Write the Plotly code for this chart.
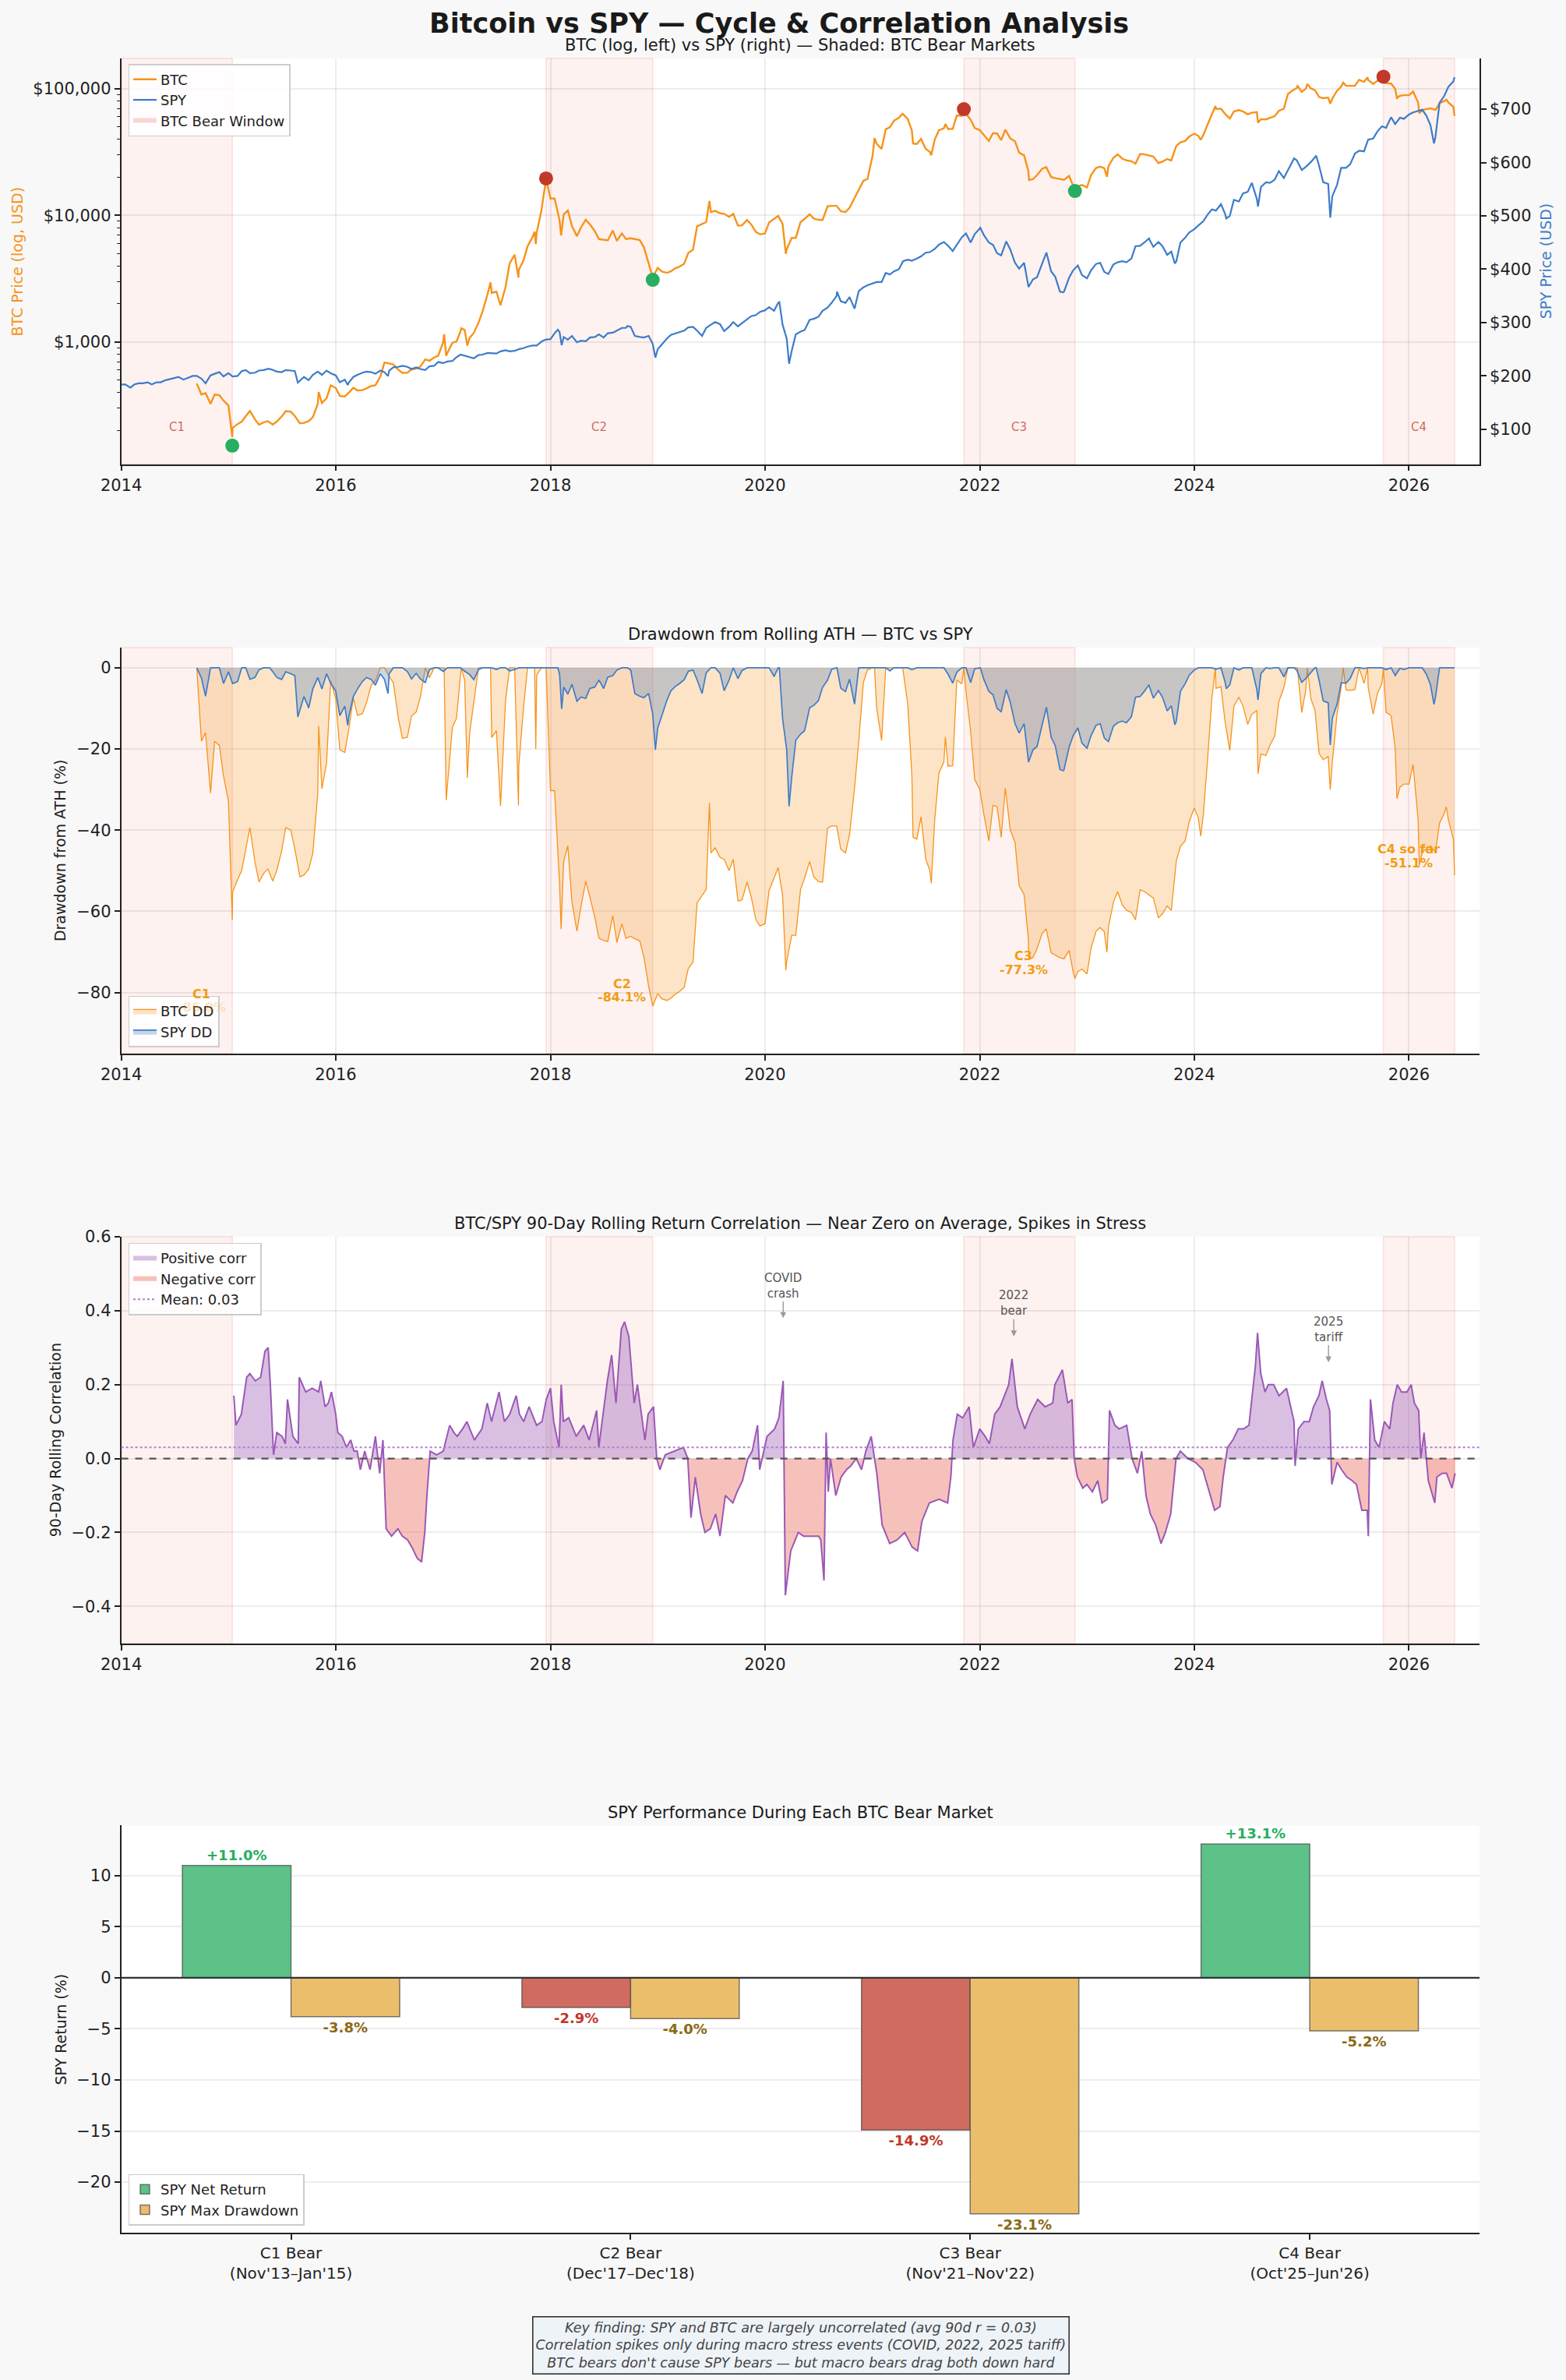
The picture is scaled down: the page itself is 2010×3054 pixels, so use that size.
import numpy as np
import pandas as pd
import plotly.graph_objects as go

# ============================ DATA ============================
# BTC close (USD), semi-monthly readings (1st / 15th) starting 2014-09-15
BTC_GRID_START = "2014-09-15"
BTC_SEMIMONTHLY = [
    470, 385, 395, 325, 385, 380, 345,                                   # 2014 (Sep 15 ->)
    315, 210, 225, 235, 260, 285, 245, 222, 232, 237, 223, 236,
    258, 285, 282, 260, 228, 230, 237, 255, 325, 330, 360, 455,          # 2015
    434, 375, 372, 400, 435, 415, 417, 430, 450, 455, 535, 690,
    675, 665, 605, 570, 572, 608, 615, 640, 730, 712, 755, 780,          # 2016
    998, 820, 985, 1010, 1220, 1245, 1080, 1180, 1420, 1750, 2400, 2450,
    2500, 1950, 2720, 4180, 4890, 3700, 4400, 5700, 6750, 7300, 10900, 17700,  # 2017
    13600, 13600, 9100, 10200, 10950, 8250, 6850, 8050, 9250, 8500, 7500, 6500,
    6400, 6350, 7600, 6300, 7200, 6500, 6600, 6480, 6380, 5600, 4200, 3240,    # 2018
    3850, 3600, 3520, 3620, 3820, 3930, 4150, 5050, 5350, 8200, 8550, 8850,
    10600, 10850, 10400, 10300, 9750, 10300, 8300, 8350, 9200, 8500, 7400, 7100,  # 2019
    7200, 8800, 9400, 9900, 8550, 5400, 6650, 6650, 8850, 9400, 10200, 9450,
    9230, 9200, 11800, 11900, 11900, 10800, 10600, 11500, 13750, 15950, 18800, 19400,  # 2020
    29400, 36800, 33500, 47900, 49600, 56000, 59000, 63100, 57800, 46700, 36700, 40200,
    33600, 31800, 39900, 47000, 48800, 48100, 48200, 61600, 61000, 63600, 57000, 48900,  # 2021
    47300, 43100, 38700, 44600, 44400, 39300, 46300, 40500, 38500, 31300, 29800, 22600,
    19300, 20800, 23300, 24100, 20100, 19700, 19300, 19100, 20500, 16900, 17000, 17400,  # 2022
    16600, 20900, 23700, 24300, 23600, 24400, 28500, 30300, 28100, 27200, 26800, 25600,
    30600, 30300, 29700, 29200, 25900, 26600, 27900, 27150, 35400, 37800, 38700, 41900,  # 2023
    44200, 42500, 43100, 51900, 62400, 69400, 69700, 63400, 58200, 66200, 67800, 66200,
    62900, 64700, 65400, 57600, 57300, 59200, 60800, 67000, 69500, 91100, 97200, 101400,  # 2024
    94400, 100500, 100700, 97600, 86000, 84300, 85200, 83700, 96500, 103700, 105600, 105500,
    105700, 117800, 113300, 117400, 109200, 115300, 118600, 111000, 110000, 100000, 88000, 89000,  # 2025
    89000, 95000, 78000, 68000, 69000, 70000, 68000, 77000, 80000, 78000, 72000,   # 2026 (-> Jun 1)
]
# Extra BTC readings at notable highs / lows
BTC_EVENT_DATES = [
    "2015-01-14", "2015-11-04", "2017-01-04", "2017-01-11", "2017-03-03", "2017-03-24",
    "2017-06-11", "2017-09-14", "2017-11-08", "2017-11-12", "2017-12-17", "2018-02-06",
    "2019-06-26", "2020-03-12", "2021-01-08", "2021-04-13", "2021-05-19", "2021-07-20",
    "2021-09-06", "2021-11-08", "2022-03-29", "2022-06-18", "2022-11-21", "2023-03-10",
    "2024-01-23", "2024-03-13", "2024-08-05", "2024-12-17", "2025-01-20", "2025-04-08",
    "2025-05-22", "2025-08-13", "2025-10-06", "2025-11-21", "2026-02-05", "2026-05-08",
    "2026-06-05",
]
BTC_EVENT_PRICES = [
    178, 403, 1154, 778, 1285, 937,
    2958, 3230, 7440, 5950, 19500, 6950,
    13000, 4970, 40800, 63500, 37000, 29800,
    52700, 67500, 47500, 19000, 15800, 20200,
    39500, 73100, 54000, 106100, 109000, 76300,
    111700, 123300, 124700, 84500, 64000, 82000,
    61000,
]

# SPY close (USD), semi-monthly readings starting 2014-01-01
SPY_GRID_START = "2014-01-01"
SPY_SEMIMONTHLY = [
    184, 184, 178, 184, 186, 186, 188, 184, 188, 188, 192, 194,
    197, 198, 193, 196, 200, 200, 195, 186, 201, 204, 207, 199,          # 2014
    205, 199, 200, 209, 211, 205, 206, 210, 211, 213, 211, 208,
    207, 211, 210, 209, 191, 198, 192, 202, 208, 202, 210, 205,          # 2015
    201, 188, 193, 188, 198, 202, 206, 208, 207, 204, 210, 207,
    210, 216, 217, 219, 217, 213, 216, 213, 211, 218, 219, 226,          # 2016
    224, 227, 228, 235, 240, 238, 236, 233, 239, 240, 243, 243,
    242, 246, 248, 246, 247, 250, 252, 255, 257, 257, 264, 268,          # 2017
    269, 280, 282, 273, 268, 275, 263, 266, 265, 272, 273, 278,
    272, 280, 281, 285, 290, 290, 292, 275, 273, 272, 275, 260,          # 2018
    250, 259, 270, 277, 280, 282, 285, 291, 292, 285, 275, 290,
    296, 301, 297, 284, 292, 301, 293, 299, 306, 312, 314, 320,          # 2019
    323, 329, 322, 337, 296, 270, 247, 278, 283, 286, 305, 307,
    311, 322, 328, 337, 350, 340, 337, 348, 326, 359, 366, 370,          # 2020
    373, 376, 376, 393, 390, 396, 400, 415, 418, 416, 420, 424,
    431, 432, 438, 446, 451, 444, 434, 446, 460, 467, 450, 466,          # 2021
    477, 464, 450, 446, 430, 426, 452, 437, 412, 401, 412, 370,
    381, 385, 410, 429, 396, 386, 358, 358, 384, 398, 407, 389,          # 2022
    383, 398, 410, 412, 395, 391, 409, 413, 415, 413, 420, 443,
    444, 450, 456, 442, 451, 443, 427, 433, 415, 450, 459, 469,          # 2023
    475, 482, 490, 502, 512, 510, 522, 504, 500, 530, 527, 542,
    545, 562, 532, 554, 563, 562, 568, 584, 571, 586, 602, 604,          # 2024
    586, 592, 601, 610, 594, 563, 560, 537, 558, 590, 590, 597,
    617, 622, 621, 643, 645, 658, 668, 665, 685, 672, 684, 682,          # 2025
    690, 694, 697, 699, 688, 670, 648, 712, 725, 742, 752,               # 2026 (-> Jun 1)
]
SPY_EVENT_DATES = [
    "2015-05-21", "2015-08-25", "2016-02-11", "2016-06-27", "2018-01-26", "2018-02-08",
    "2018-09-20", "2018-12-24", "2020-02-19", "2020-03-23", "2020-09-02", "2022-01-03",
    "2022-06-16", "2022-08-16", "2022-10-12", "2023-07-31", "2023-10-27", "2024-04-19",
    "2024-08-05", "2024-12-06", "2025-02-19", "2025-04-08", "2026-03-27", "2026-06-05",
]
SPY_EVENT_PRICES = [
    213.1, 187.3, 182.9, 199.6, 286.6, 257.6,
    293.6, 234.3, 338.3, 222.9, 358.0, 477.7,
    366.7, 431.3, 356.6, 457.8, 410.7, 495.2,
    517.4, 607.8, 612.9, 496.5, 636.0, 760.0,
]

# Cycle peaks / troughs (markers)
PEAK_DATES = ["2017-12-17", "2021-11-08", "2025-10-06"]
PEAK_PRICES = [19600, 69000, 124500]
TROUGH_DATES = ["2015-01-14", "2018-12-15", "2022-11-21"]
TROUGH_PRICES = [152, 3100, 15600]

# BTC bear windows
BEAR_LABELS = ["C1", "C2", "C3", "C4"]
BEAR_START = ["2013-11-30", "2017-12-17", "2021-11-08", "2025-10-06"]
BEAR_END = ["2015-01-14", "2018-12-15", "2022-11-21", "2026-06-05"]

# Drawdown callouts (cycle name, depth text)
DD_LABEL_NAME = ["C1", "C2", "C3", "C4 so far"]
DD_LABEL_DEPTH = ["-86.0%", "-84.1%", "-77.3%", "-51.1%"]
DD_LABEL_DATES = ["2014-10-01", "2018-09-01", "2022-05-30", "2026-01-01"]
DD_LABEL_LEVELS = [-82.0, -79.5, -72.7, -46.4]

# 90-day rolling BTC/SPY correlation readings (decimal year, r)
CORR_YEARS = [
    2015.05, 2015.07, 2015.12, 2015.17, 2015.20, 2015.25, 2015.30, 2015.34, 2015.37, 2015.39,
    2015.42, 2015.45, 2015.50, 2015.53, 2015.55, 2015.58, 2015.60, 2015.65, 2015.66, 2015.72,
    2015.78, 2015.84, 2015.86, 2015.90, 2015.93, 2015.96, 2016.00, 2016.02, 2016.06, 2016.10,
    2016.14, 2016.17, 2016.20, 2016.23, 2016.27, 2016.32, 2016.37, 2016.41, 2016.44, 2016.47,
    2016.52, 2016.58, 2016.62, 2016.67, 2016.71, 2016.76, 2016.80, 2016.83, 2016.85, 2016.88,
    2016.94, 2017.00, 2017.06, 2017.10, 2017.13, 2017.18, 2017.22, 2017.29, 2017.36, 2017.41,
    2017.45, 2017.52, 2017.57, 2017.62, 2017.68, 2017.71, 2017.75, 2017.80, 2017.87, 2017.92,
    2017.96, 2018.00, 2018.03, 2018.08, 2018.10, 2018.12, 2018.17, 2018.24, 2018.31, 2018.36,
    2018.43, 2018.45, 2018.50, 2018.53, 2018.57, 2018.61, 2018.66, 2018.69, 2018.73, 2018.78,
    2018.81, 2018.85, 2018.88, 2018.91, 2018.96, 2018.99, 2019.02, 2019.07, 2019.15, 2019.24,
    2019.28, 2019.31, 2019.35, 2019.40, 2019.44, 2019.49, 2019.54, 2019.58, 2019.63, 2019.70,
    2019.74, 2019.79, 2019.84, 2019.88, 2019.93, 2019.95, 2020.02, 2020.09, 2020.13, 2020.17,
    2020.19, 2020.24, 2020.31, 2020.36, 2020.43, 2020.50, 2020.52, 2020.55, 2020.57, 2020.59,
    2020.61, 2020.66, 2020.71, 2020.76, 2020.80, 2020.85, 2020.90, 2020.94, 2020.99, 2021.04,
    2021.09, 2021.16, 2021.23, 2021.30, 2021.37, 2021.42, 2021.46, 2021.53, 2021.62, 2021.70,
    2021.73, 2021.75, 2021.79, 2021.84, 2021.90, 2021.94, 2022.00, 2022.05, 2022.09, 2022.14,
    2022.19, 2022.23, 2022.27, 2022.30, 2022.35, 2022.42, 2022.47, 2022.54, 2022.61, 2022.68,
    2022.70, 2022.77, 2022.82, 2022.86, 2022.88, 2022.91, 2022.96, 2023.00, 2023.05, 2023.10,
    2023.14, 2023.19, 2023.21, 2023.26, 2023.30, 2023.37, 2023.42, 2023.47, 2023.51, 2023.55,
    2023.59, 2023.64, 2023.69, 2023.73, 2023.78, 2023.83, 2023.87, 2023.94, 2024.01, 2024.08,
    2024.13, 2024.19, 2024.24, 2024.27, 2024.31, 2024.36, 2024.41, 2024.46, 2024.51, 2024.53,
    2024.57, 2024.59, 2024.62, 2024.66, 2024.69, 2024.74, 2024.79, 2024.86, 2024.90, 2024.93,
    2024.94, 2024.97, 2025.02, 2025.07, 2025.11, 2025.16, 2025.19, 2025.23, 2025.26, 2025.28,
    2025.33, 2025.37, 2025.42, 2025.47, 2025.51, 2025.56, 2025.61, 2025.62, 2025.64, 2025.68,
    2025.72, 2025.77, 2025.82, 2025.85, 2025.89, 2025.93, 2025.98, 2026.02, 2026.05, 2026.09,
    2026.11, 2026.14, 2026.18, 2026.21, 2026.24, 2026.26, 2026.31, 2026.35, 2026.40, 2026.43,
]
CORR_VALUES = [
    0.17, 0.09, 0.12, 0.22, 0.23, 0.21, 0.22, 0.29, 0.30, 0.20,
    0.01, 0.07, 0.06, 0.04, 0.16, 0.10, 0.06, 0.04, 0.22, 0.18,
    0.19, 0.18, 0.21, 0.14, 0.15, 0.18, 0.12, 0.07, 0.06, 0.03,
    0.05, 0.02, 0.02, -0.03, 0.02, -0.03, 0.06, -0.04, 0.05, -0.19,
    -0.21, -0.19, -0.21, -0.22, -0.24, -0.27, -0.28, -0.20, -0.10, 0.02,
    0.01, 0.02, 0.09, 0.07, 0.06, 0.08, 0.10, 0.05, 0.08, 0.15,
    0.10, 0.18, 0.10, 0.12, 0.17, 0.12, 0.10, 0.14, 0.09, 0.10,
    0.16, 0.19, 0.10, 0.03, 0.20, 0.10, 0.11, 0.06, 0.09, 0.05,
    0.13, 0.03, 0.14, 0.21, 0.28, 0.15, 0.35, 0.37, 0.33, 0.15,
    0.20, 0.12, 0.05, 0.12, 0.14, 0.00, -0.03, 0.01, 0.02, 0.03,
    0.00, -0.16, -0.05, -0.15, -0.20, -0.19, -0.15, -0.21, -0.10, -0.12,
    -0.09, -0.06, 0.00, 0.02, 0.09, -0.03, 0.06, 0.08, 0.11, 0.21,
    -0.37, -0.25, -0.20, -0.21, -0.21, -0.21, -0.22, -0.33, 0.07, -0.09,
    0.00, -0.10, -0.05, -0.03, -0.02, 0.00, -0.03, 0.02, 0.06, -0.04,
    -0.18, -0.23, -0.22, -0.20, -0.24, -0.25, -0.17, -0.12, -0.11, -0.12,
    -0.05, 0.05, 0.12, 0.11, 0.14, 0.03, 0.08, 0.06, 0.04, 0.12,
    0.14, 0.17, 0.20, 0.27, 0.14, 0.08, 0.12, 0.16, 0.14, 0.15,
    0.20, 0.24, 0.15, 0.16, 0.00, -0.05, -0.08, -0.07, -0.09, -0.06,
    -0.12, -0.11, 0.13, 0.09, 0.08, 0.09, 0.00, -0.04, 0.02, -0.10,
    -0.15, -0.18, -0.23, -0.20, -0.15, 0.00, 0.02, 0.00, -0.01, -0.03,
    -0.08, -0.14, -0.13, -0.05, 0.03, 0.05, 0.08, 0.08, 0.09, 0.14,
    0.25, 0.34, 0.23, 0.18, 0.20, 0.20, 0.17, 0.19, 0.14, 0.10,
    -0.02, 0.08, 0.10, 0.10, 0.14, 0.17, 0.21, 0.16, 0.13, -0.07,
    -0.01, -0.03, -0.05, -0.06, -0.07, -0.14, -0.14, -0.21, 0.16, 0.05,
    0.03, 0.10, 0.08, 0.15, 0.20, 0.18, 0.18, 0.20, 0.15, 0.13,
    0.00, 0.07, -0.06, -0.09, -0.12, -0.05, -0.04, -0.04, -0.08, -0.04,
]
CORR_MEAN = 0.03

STRESS_LABELS = ["COVID<br>crash", "2022<br>bear", "2025<br>tariff"]
STRESS_DATES = ["2020-03-03", "2022-04-27", "2025-04-02"]
STRESS_TIP = [0.38, 0.33, 0.26]
STRESS_TEXT_Y = [0.468, 0.42, 0.35]

# SPY performance during BTC bears
BAR_CATEGORIES = ["C1 Bear<br>(Nov'13–Jan'15)", "C2 Bear<br>(Dec'17–Dec'18)",
                  "C3 Bear<br>(Nov'21–Nov'22)", "C4 Bear<br>(Oct'25–Jun'26)"]
SPY_NET_RETURN = [11.0, -2.9, -14.9, 13.1]
SPY_MAX_DRAWDOWN = [-3.8, -4.0, -23.1, -5.2]

FOOTER_LINES = [
    "Key finding: SPY and BTC are largely uncorrelated (avg 90d r = 0.03)",
    "Correlation spikes only during macro stress events (COVID, 2022, 2025 tariff)",
    "BTC bears don't cause SPY bears — but macro bears drag both down hard",
]

# ============================ STYLE ============================
W, H = 2010, 3054
FONT = "DejaVu Sans"
C_BTC = "#f7931a"
C_SPY = "#3d7cc9"
C_PURPLE = "#9b59b6"
C_RED = "#c0392b"
C_GREEN = "#27ae60"
C_GOLD_TXT = "#8b6914"
SHADE_FILL = "rgba(231,76,60,0.075)"
SHADE_EDGE = "rgba(231,76,60,0.15)"
GRID = "rgba(0,0,0,0.07)"
AX = "#222222"
PAPER = "#f8f8f8"
X_START, X_END = "2014-01-01", "2026-08-29"
TICK_SIZE = 21


def px_x(p):
    return p / W


def px_y(p):
    return 1 - p / H


XDOM = [px_x(155.6), px_x(1899.0)]
YDOM = [
    [px_y(595.5), px_y(75.1)],
    [px_y(1351.7), px_y(830.9)],
    [px_y(2108.7), px_y(1587.0)],
    [px_y(2864.9), px_y(2342.4)],
]


def build_series(start, grid_vals, ev_dates, ev_vals):
    idx = list(pd.date_range(start, periods=len(grid_vals), freq="SMS"))
    idx += list(pd.to_datetime(ev_dates))
    s = pd.Series(list(grid_vals) + list(ev_vals), index=idx, dtype=float)
    s = s[~s.index.duplicated(keep="last")].sort_index()
    return s


def dec_year_to_ts(y):
    yi = int(np.floor(y))
    return pd.Timestamp(f"{yi}-01-01") + pd.Timedelta(days=(y - yi) * 365.25)


btc = build_series(BTC_GRID_START, BTC_SEMIMONTHLY, BTC_EVENT_DATES, BTC_EVENT_PRICES)
spy = build_series(SPY_GRID_START, SPY_SEMIMONTHLY, SPY_EVENT_DATES, SPY_EVENT_PRICES)

btc_dd = (btc / btc.cummax() - 1) * 100
spy_al = spy[spy.index >= btc.index[0]]
spy_dd = (spy_al / spy_al.cummax() - 1) * 100

corr_t = pd.DatetimeIndex([dec_year_to_ts(y) for y in CORR_YEARS])
corr_v = np.array(CORR_VALUES, dtype=float)

# zero-crossing geometry for the sign-split fills
tn = corr_t.asi8.astype(float)
fx, fy = [tn[0]], [corr_v[0]]
for i in range(1, len(corr_v)):
    a, b = corr_v[i - 1], corr_v[i]
    if a * b < 0:
        fx.append(tn[i - 1] + (tn[i] - tn[i - 1]) * a / (a - b))
        fy.append(0.0)
    fx.append(tn[i])
    fy.append(b)
fx = pd.to_datetime(np.array(fx, dtype="int64"))
fy = np.array(fy)
corr_pos = np.maximum(fy, 0)
corr_neg = np.minimum(fy, 0)

fig = go.Figure()

# ---------------- Panel 1: prices ----------------
fig.add_trace(go.Scatter(x=btc.index, y=btc.values, mode="lines", name="BTC",
                         line=dict(color=C_BTC, width=2.4), xaxis="x", yaxis="y",
                         legend="legend"))
fig.add_trace(go.Scatter(x=spy.index, y=spy.values, mode="lines", name="SPY",
                         line=dict(color=C_SPY, width=2.2), xaxis="x", yaxis="y2",
                         legend="legend"))
fig.add_trace(go.Scatter(x=[None], y=[None], mode="none", fill="toself",
                         fillcolor="rgba(231,76,60,0.22)", name="BTC Bear Window",
                         xaxis="x", yaxis="y", legend="legend"))
fig.add_trace(go.Scatter(x=pd.to_datetime(PEAK_DATES), y=PEAK_PRICES, mode="markers",
                         marker=dict(color=C_RED, size=18), showlegend=False,
                         xaxis="x", yaxis="y"))
fig.add_trace(go.Scatter(x=pd.to_datetime(TROUGH_DATES), y=TROUGH_PRICES, mode="markers",
                         marker=dict(color=C_GREEN, size=18), showlegend=False,
                         xaxis="x", yaxis="y"))

# ---------------- Panel 2: drawdowns ----------------
fig.add_trace(go.Scatter(x=btc_dd.index, y=btc_dd.values, mode="lines", name="BTC DD",
                         fill="tozeroy", fillcolor="rgba(247,147,26,0.25)",
                         line=dict(color=C_BTC, width=1.3), xaxis="x2", yaxis="y3",
                         legend="legend2"))
fig.add_trace(go.Scatter(x=spy_dd.index, y=spy_dd.values, mode="lines", name="SPY DD",
                         fill="tozeroy", fillcolor="rgba(74,127,193,0.3)",
                         line=dict(color=C_SPY, width=1.7), xaxis="x2", yaxis="y3",
                         legend="legend2"))

# ---------------- Panel 3: correlation ----------------
fig.add_trace(go.Scatter(x=fx, y=corr_pos, mode="none", name="Positive corr",
                         fill="tozeroy", fillcolor="rgba(155,89,182,0.38)",
                         xaxis="x3", yaxis="y4", legend="legend3"))
fig.add_trace(go.Scatter(x=fx, y=corr_neg, mode="none", name="Negative corr",
                         fill="tozeroy", fillcolor="rgba(231,76,60,0.35)",
                         xaxis="x3", yaxis="y4", legend="legend3"))
fig.add_trace(go.Scatter(x=[None], y=[None], mode="lines", name=f"Mean: {CORR_MEAN:.2f}",
                         line=dict(color="#b57fcc", width=2, dash="dot"),
                         xaxis="x3", yaxis="y4", legend="legend3"))
fig.add_trace(go.Scatter(x=corr_t, y=corr_v, mode="lines", showlegend=False,
                         line=dict(color=C_PURPLE, width=2.0), xaxis="x3", yaxis="y4"))

# ---------------- Panel 4: bars ----------------
net_colors = ["#5cc288" if v >= 0 else "#d06b61" for v in SPY_NET_RETURN]
net_txt_colors = [C_GREEN if v >= 0 else C_RED for v in SPY_NET_RETURN]
fig.add_trace(go.Bar(x=BAR_CATEGORIES, y=SPY_NET_RETURN, name="SPY Net Return",
                     marker=dict(color=net_colors, line=dict(color="rgba(70,70,70,0.7)", width=1.5)),
                     text=[f"<b>{v:+.1f}%</b>" for v in SPY_NET_RETURN], textposition="outside",
                     textfont=dict(size=18, color=net_txt_colors, family=FONT),
                     constraintext="none", cliponaxis=False,
                     xaxis="x4", yaxis="y5", legend="legend4"))
fig.add_trace(go.Bar(x=BAR_CATEGORIES, y=SPY_MAX_DRAWDOWN, name="SPY Max Drawdown",
                     marker=dict(color="#ebbe6c", line=dict(color="rgba(70,70,70,0.7)", width=1.5)),
                     text=[f"<b>{v:.1f}%</b>" for v in SPY_MAX_DRAWDOWN], textposition="outside",
                     textfont=dict(size=18, color=C_GOLD_TXT, family=FONT),
                     constraintext="none", cliponaxis=False,
                     xaxis="x4", yaxis="y5", legend="legend4"))

# ---------------- shapes ----------------
shapes = []
for xr, yr in [("x", "y"), ("x2", "y3"), ("x3", "y4")]:
    for s0, s1 in zip(BEAR_START, BEAR_END):
        x0 = max(pd.Timestamp(s0), pd.Timestamp(X_START))
        shapes.append(dict(type="rect", xref=xr, yref=f"{yr} domain", x0=x0, x1=s1, y0=0, y1=1,
                           fillcolor=SHADE_FILL, line=dict(color=SHADE_EDGE, width=1.5),
                           layer="below"))
shapes.append(dict(type="line", xref="x3 domain", yref="y4", x0=0, x1=1, y0=CORR_MEAN, y1=CORR_MEAN,
                   line=dict(color="#b57fcc", width=2, dash="dot"), layer="above"))
shapes.append(dict(type="line", xref="x3 domain", yref="y4", x0=0, x1=1, y0=0, y1=0,
                   line=dict(color="#555555", width=2.2, dash="dash"), layer="above"))
shapes.append(dict(type="line", xref="x4 domain", yref="y5", x0=0, x1=1, y0=0, y1=0,
                   line=dict(color="#333333", width=2.2), layer="above"))

# ---------------- annotations ----------------
ann = []


def paper_text(text, xp, yp, size, color, angle=0):
    return dict(text=text, x=px_x(xp), y=px_y(yp), xref="paper", yref="paper",
                xanchor="center", yanchor="middle", showarrow=False, textangle=angle,
                font=dict(size=size, color=color))


ann.append(paper_text("<b>Bitcoin vs SPY — Cycle & Correlation Analysis</b>", 999.5, 29.7, 35, "#1a1a1a"))
axes_cx = (155.6 + 1899.0) / 2
panel_titles = [
    ("BTC (log, left) vs SPY (right) — Shaded: BTC Bear Markets", 58.1),
    ("Drawdown from Rolling ATH — BTC vs SPY", 813.7),
    ("BTC/SPY 90-Day Rolling Return Correlation — Near Zero on Average, Spikes in Stress", 1569.9),
    ("SPY Performance During Each BTC Bear Market", 2325.7),
]
for t, yp in panel_titles:
    ann.append(paper_text(t, axes_cx, yp, 21, "#1a1a1a"))

ytitles = [
    ("BTC Price (log, USD)", 22.3, 335.3, C_BTC),
    ("SPY Price (USD)", 1984.0, 335.3, C_SPY),
    ("Drawdown from ATH (%)", 77.8, 1091.3, AX),
    ("90-Day Rolling Correlation", 71.4, 1847.9, AX),
    ("SPY Return (%)", 77.8, 2603.7, AX),
]
for t, xp, yp, c in ytitles:
    ann.append(paper_text(t, xp, yp, 19, c, angle=-90))

for lab, s0, s1 in zip(BEAR_LABELS, BEAR_START, BEAR_END):
    a = max(pd.Timestamp(s0), pd.Timestamp(X_START))
    b = pd.Timestamp(s1)
    ann.append(dict(text=lab, x=a + (b - a) / 2, y=0.092, xref="x", yref="y domain",
                    xanchor="center", yanchor="middle", showarrow=False,
                    font=dict(size=15, color="rgba(192,57,43,0.75)")))

for i, (nm, dp, d, lv) in enumerate(zip(DD_LABEL_NAME, DD_LABEL_DEPTH, DD_LABEL_DATES, DD_LABEL_LEVELS)):
    # the first callout sits behind the legend in the reference, so its depth line is faint
    depth_col = "rgba(243,156,18,0.25)" if i == 0 else "#f39c12"
    ann.append(dict(text=f"<b>{nm}</b>", x=d, y=lv + 1.7, xref="x2", yref="y3", showarrow=False,
                    xanchor="center", yanchor="middle", font=dict(size=16, color="#f39c12")))
    ann.append(dict(text=f"<b>{dp}</b>", x=d, y=lv - 1.7, xref="x2", yref="y3", showarrow=False,
                    xanchor="center", yanchor="middle", font=dict(size=16, color=depth_col)))

for t, d, tip, ty in zip(STRESS_LABELS, STRESS_DATES, STRESS_TIP, STRESS_TEXT_Y):
    ann.append(dict(text=t, x=d, y=tip, xref="x3", yref="y4", ax=d, ay=ty, axref="x3", ayref="y4",
                    showarrow=True, arrowhead=2, arrowsize=1.1, arrowwidth=1.4, arrowcolor="#9a9a9a",
                    font=dict(size=15, color="#555555")))

foot = paper_text("<i>" + "<br>".join(FOOTER_LINES) + "</i>", 1028, 3009, 17.5, "#444444")
foot.update(align="center", bgcolor="#eef3f8", bordercolor="#333333", borderwidth=1.6, borderpad=3)
ann.append(foot)

# ---------------- axes ----------------
tickfont = dict(size=TICK_SIZE, color=AX)
common_x = dict(type="date", range=[X_START, X_END], domain=XDOM, tickformat="%Y", dtick="M24",
                tick0="2014-01-01", showgrid=True, gridcolor=GRID, gridwidth=1.5, showline=True,
                linecolor=AX, linewidth=1.8, ticks="outside", ticklen=7, tickwidth=1.5,
                tickcolor=AX, tickfont=tickfont, zeroline=False, automargin=False)
common_y = dict(showgrid=True, gridcolor=GRID, gridwidth=1.5, showline=True, linecolor=AX,
                linewidth=1.8, ticks="outside", ticklen=7, tickwidth=1.5, tickcolor=AX,
                tickfont=tickfont, zeroline=False, automargin=False)

minor_vals = [m * 10 ** e for e in (2, 3, 4) for m in range(2, 10)]
spy_ticks = [100, 200, 300, 400, 500, 600, 700]

legend_style = dict(bgcolor="rgba(255,255,255,0.85)", bordercolor="#cccccc", borderwidth=1.5,
                    font=dict(size=18, color=AX), xanchor="left")

fig.update_layout(
    width=W, height=H, autosize=False, margin=dict(l=0, r=0, t=0, b=0, autoexpand=False),
    paper_bgcolor=PAPER, plot_bgcolor="white", font=dict(family=FONT, color=AX),
    hovermode=False, barmode="group", bargap=0.36, bargroupgap=0.0,
    xaxis=dict(common_x, anchor="y"),
    yaxis=dict(common_y, type="log", domain=YDOM[0], range=[2.036, 5.239], anchor="x",
               tickvals=[1000, 10000, 100000], ticktext=["$1,000", "$10,000", "$100,000"],
               minor=dict(tickvals=minor_vals, ticks="outside", ticklen=4, tickwidth=1.2,
                          tickcolor=AX, showgrid=False)),
    yaxis2=dict(common_y, overlaying="y", side="right", range=[34.7, 795], anchor="x",
                tickvals=spy_ticks, ticktext=[f"${v}" for v in spy_ticks], showgrid=False),
    xaxis2=dict(common_x, anchor="y3"),
    yaxis3=dict(common_y, domain=YDOM[1], range=[-95, 5], anchor="x2",
                tickvals=[0, -20, -40, -60, -80]),
    xaxis3=dict(common_x, anchor="y4"),
    yaxis4=dict(common_y, domain=YDOM[2], range=[-0.5, 0.6], anchor="x3", dtick=0.2,
                tick0=0, tickformat=".1f"),
    xaxis4=dict(type="category", domain=XDOM, range=[-0.5, 3.5], anchor="y5", showgrid=False,
                showline=True, linecolor=AX, linewidth=1.8, ticks="outside", ticklen=7,
                tickwidth=1.5, tickcolor=AX, tickfont=dict(size=20, color=AX), automargin=False),
    yaxis5=dict(common_y, domain=YDOM[3], range=[-24.95, 14.92], anchor="x4", dtick=5, tick0=0),
    legend=dict(legend_style, x=px_x(164.5), y=px_y(82), yanchor="top"),
    legend2=dict(legend_style, x=px_x(164.5), y=px_y(1343.7), yanchor="bottom"),
    legend3=dict(legend_style, x=px_x(164.5), y=px_y(1594.7), yanchor="top"),
    legend4=dict(legend_style, x=px_x(164.5), y=px_y(2855.5), yanchor="bottom"),
    shapes=shapes,
    annotations=ann,
)

fig.write_html("out.html")
